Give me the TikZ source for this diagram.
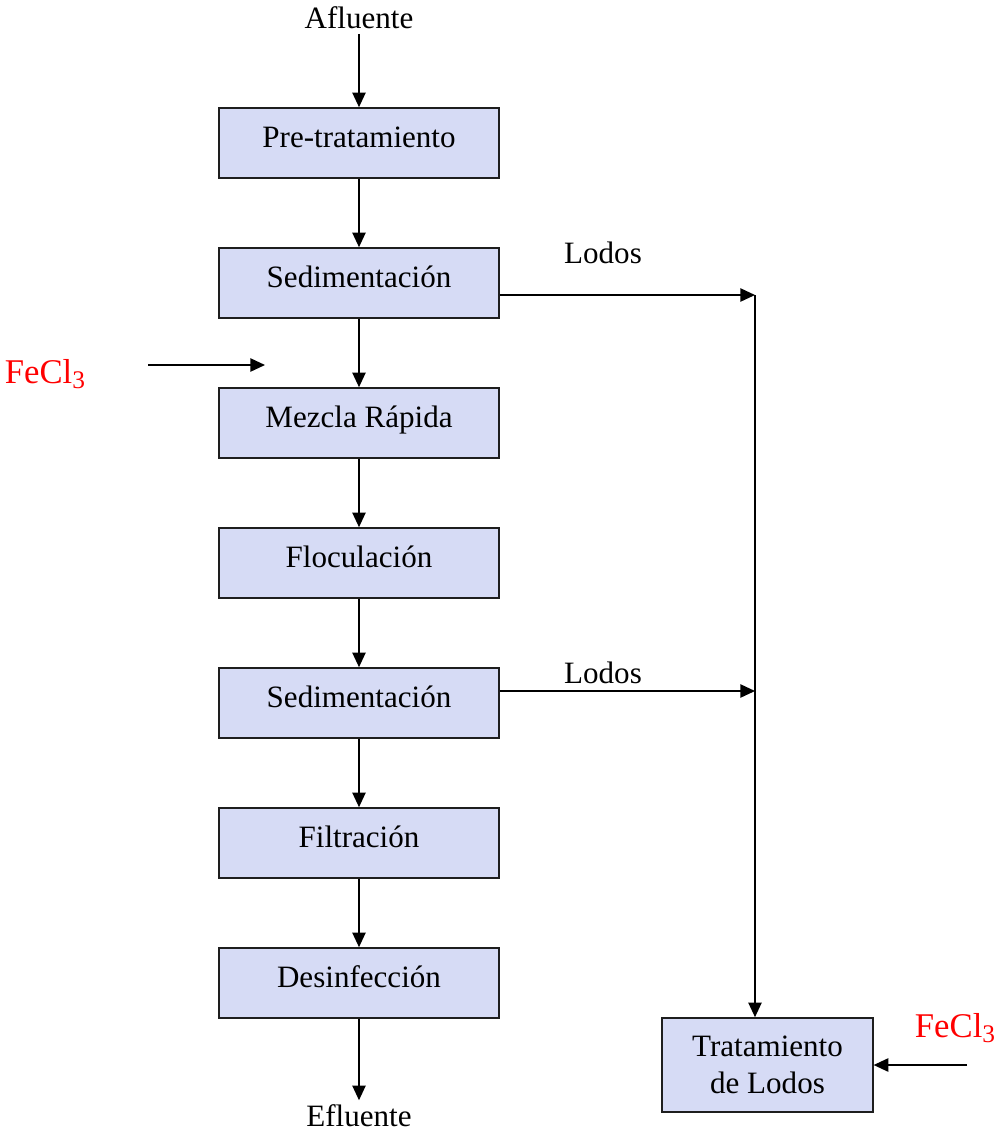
\documentclass[tikz,border=0pt]{standalone}
\usepackage{fontspec}
\setmainfont{Liberation Serif}
\usepackage{tikz}
\usetikzlibrary{arrows.meta, positioning}
\definecolor{boxfill}{RGB}{214,219,245}
\definecolor{boxline}{RGB}{30,30,30}
\newcommand{\fecl}{FeCl\raisebox{-0.3ex}{\fontsize{19}{22}\selectfont 3}}
\tikzset{
  block/.style={rectangle, draw=boxline, fill=boxfill,
    minimum width=210pt, minimum height=52.5pt, align=center,
    font=\fontsize{23.3}{28}\selectfont, line width=1.2pt},
  step box/.style={block, text depth=9pt},
  arrow/.style={-{Triangle[length=11pt, width=10pt]}, line width=1.1pt},
  line/.style={line width=1.1pt},
  lbl/.style={font=\fontsize{23.3}{28}\selectfont},
  chem/.style={font=\fontsize{26}{30}\selectfont, text=red}
}
\begin{document}
\begin{tikzpicture}[x=0.75pt, y=-0.75pt]
  \useasboundingbox (0,0) rectangle (996,1133);
  % main line
  \node[step box] (pre) at (359,143) {Pre-tratamiento};
  \node[step box, below=51.3pt of pre] (sed1) {Sedimentación};
  \node[step box, below=51.3pt of sed1] (mez) {Mezcla Rápida};
  \node[step box, below=51.3pt of mez] (flo) {Floculación};
  \node[step box, below=51.3pt of flo] (sed2) {Sedimentación};
  \node[step box, below=51.3pt of sed2] (fil) {Filtración};
  \node[step box, below=51.3pt of fil] (des) {Desinfección};
  \node[block, minimum width=158pt, minimum height=70.5pt] (tl) at (767.5,1065) {Tratamiento\\de Lodos};

  \node[lbl] (afl) at (359,18) {Afluente};
  \node[lbl] (efl) at (359,1116) {Efluente};
  \node[lbl] (lod1) at (603,253) {Lodos};
  \node[lbl] (lod2) at (603,673) {Lodos};
  \node[chem] (fe1) at (45,374) {\fecl};
  \node[chem] (fe2) at (955,1028) {\fecl};

  \coordinate (j1) at (755,295);
  \coordinate (j2) at (755,691);
  \coordinate (fa) at (148,365);
  \coordinate (fb) at (265,365);
  \coordinate (fc) at (967,1065);

  \draw[arrow] (afl.south) -- (pre.north);
  \draw[arrow] (pre) -- (sed1);
  \draw[arrow] (sed1) -- (mez);
  \draw[arrow] (mez) -- (flo);
  \draw[arrow] (flo) -- (sed2);
  \draw[arrow] (sed2) -- (fil);
  \draw[arrow] (fil) -- (des);
  \draw[arrow] (des.south) -- (efl.north);

  % lodos
  \draw[arrow] (sed1.east |- j1) -- (j1);
  \draw[arrow] (sed2.east |- j2) -- (j2);
  \draw[arrow] (j1) -- (j1 |- tl.north);

  % reactivo
  \draw[arrow] (fa) -- (fb);
  \draw[arrow] (fc) -- (tl.east);
\end{tikzpicture}
\end{document}
